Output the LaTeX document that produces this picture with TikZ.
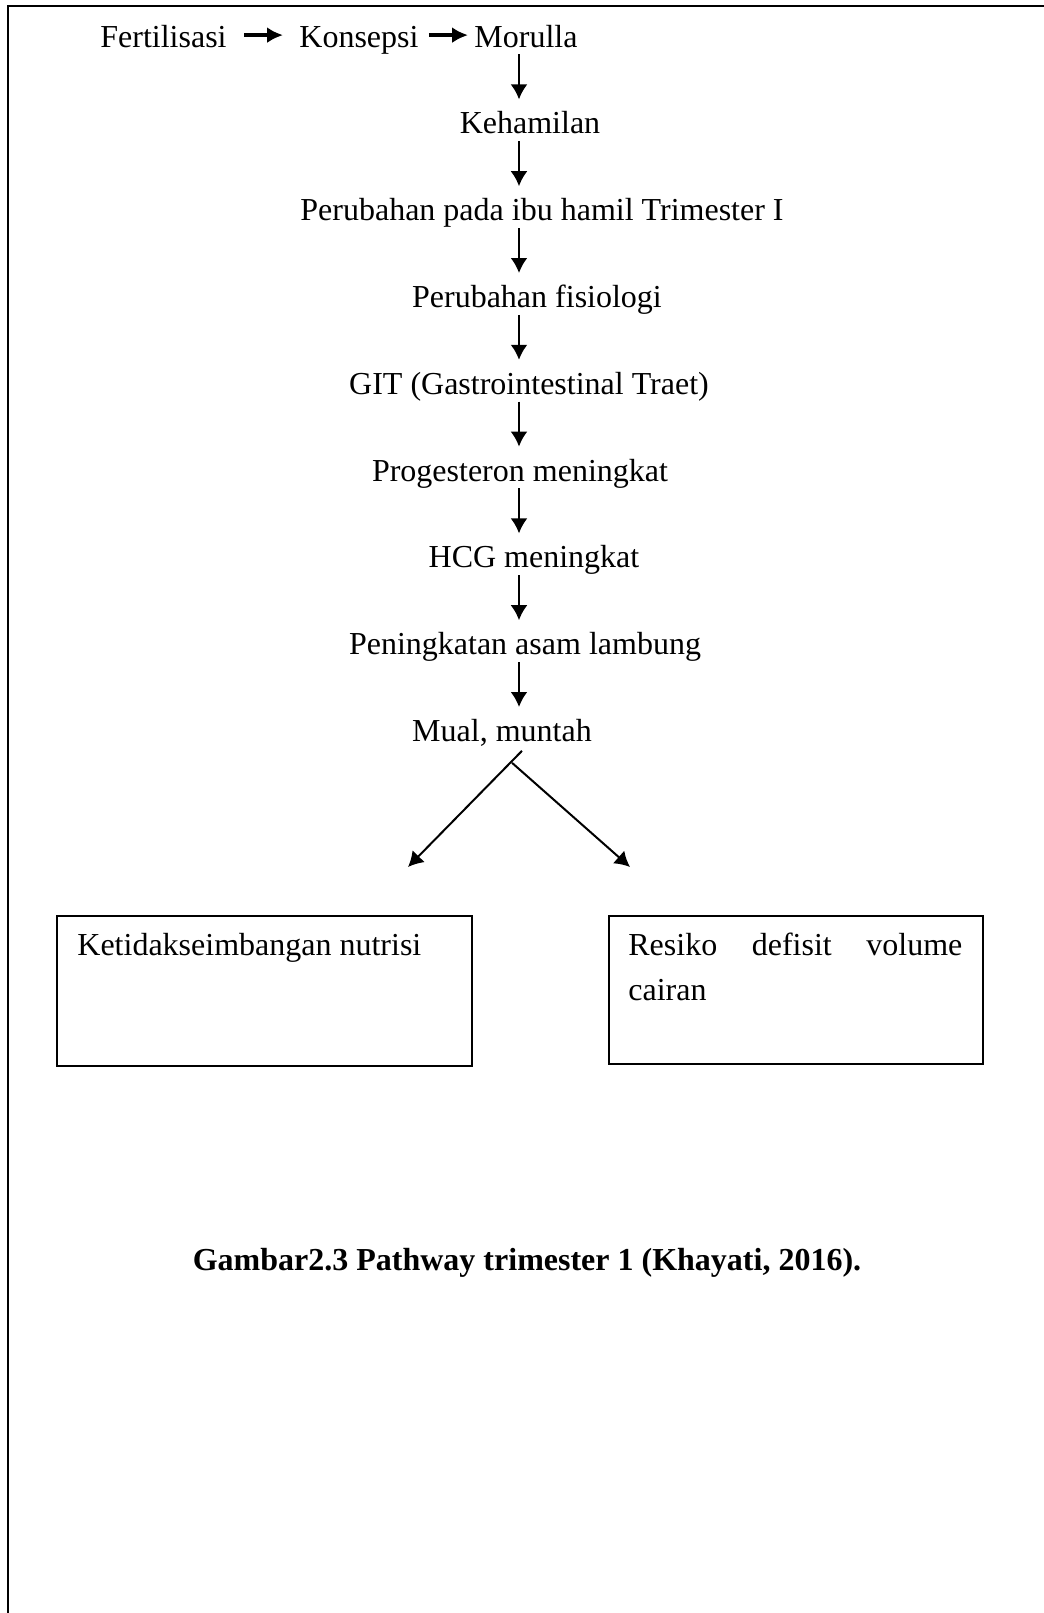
\documentclass[tikz,border=0pt]{standalone}
\usepackage{fontspec}
\setmainfont{Liberation Serif}
\usetikzlibrary{arrows.meta}

\tikzset{
  lbl/.style={inner sep=0pt, anchor=base, font=\fontsize{16}{22.5}\selectfont},
  flow/.style={lbl, text height=11pt, text depth=3.5pt},
  arr/.style={line width=1.2pt, -{Latex[length=7.5pt,width=8.5pt]}},
  harr/.style={line width=1.8pt, -{Latex[length=8pt,width=8pt]}},
  box/.style={draw, line width=0.8pt, anchor=north west, inner sep=0pt},
}

\begin{document}
\begin{tikzpicture}[x=0.5pt, y=-0.5pt]
    \useasboundingbox (0,0) rectangle (1044,1613);

    % Page frame (top and left side only)
    \draw[line width=1pt] (1044,6) -- (8,6) -- (8,1613);

    % First row
    \node[flow, anchor=base west] (fert) at (100,47) {Fertilisasi};
    \node[flow, anchor=base west] (kons) at (299,47) {Konsepsi};
    \node[flow, anchor=base west] (morulla) at (474,47) {Morulla};
    \draw[harr, shorten <=8.5pt, shorten >=8pt] ([yshift=2.2pt]fert.east) -- ([yshift=2.2pt]kons.west);
    \draw[harr, shorten <=5pt, shorten >=3pt] ([yshift=2.2pt]kons.east) -- ([yshift=2.2pt]morulla.west);

    % Vertical chain
    \coordinate (spine) at (519,0);
    \foreach \n/\x/\t [count=\i] in {keham/530/Kehamilan, trim/542/Perubahan pada ibu hamil Trimester I,
                                     fisio/537/Perubahan fisiologi, git/529/GIT (Gastrointestinal Traet),
                                     prog/520/Progesteron meningkat, hcg/534/HCG meningkat,
                                     asam/525/Peningkatan asam lambung, mual/502/{Mual, muntah}} {
        \node[flow] (\n) at (\x, 47+86.8*\i) {\t};
    }
    \foreach \a/\b in {morulla/keham, keham/trim, trim/fisio, fisio/git, git/prog, prog/hcg, hcg/asam, asam/mual} {
        \draw[arr, shorten >=6pt] (\a.south -| spine) -- (\b.north -| spine);
    }

    % Split into the two outcomes
    \coordinate (lefttip) at (408,867);
    \coordinate (righttip) at (630,867);
    \draw[arr, line width=1pt] ([xshift=10pt,yshift=-1pt]mual.south) -- (lefttip);
    \draw[arr, line width=1pt] ([xshift=5pt,yshift=-7pt]mual.south) -- (righttip);

    % Outcome boxes
    \node[box, minimum width=207.5pt, minimum height=75pt] (nutribox) at (56,915) {};
    \node[lbl, anchor=base west] (nutri) at ([xshift=10.5pt,yshift=-20pt]nutribox.north west) {Ketidakseimbangan nutrisi};
    \node[box, minimum width=187pt, minimum height=74pt] (cairbox) at (608,915) {};
    \node[lbl, anchor=base west, text width=167pt, align=left] (cair) at ([xshift=10pt,yshift=-20pt]cairbox.north west)
        {Resiko\hfill defisit\hfill volume\\cairan};

    % Caption
    \node[lbl, font=\fontsize{16}{22.5}\selectfont\bfseries] (caption) at (527,1270) {Gambar2.3 Pathway trimester 1 (Khayati, 2016).};
\end{tikzpicture}
\end{document}
